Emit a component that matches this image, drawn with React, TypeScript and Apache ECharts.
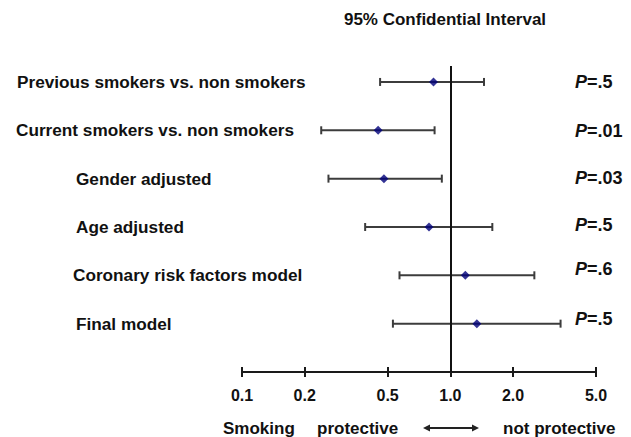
import React, { useEffect, useRef } from "react";
import * as echarts from "echarts";

const labels = [
  "Previous smokers vs. non smokers",
  "Current smokers vs. non smokers",
  "Gender adjusted",
  "Age adjusted",
  "Coronary risk factors model",
  "Final model",
];
const estimates = [0.83, 0.45, 0.48, 0.79, 1.18, 1.34];
const lowerCI = [0.46, 0.24, 0.26, 0.39, 0.57, 0.53];
const upperCI = [1.45, 0.84, 0.91, 1.59, 2.53, 3.38];
const pValues = [".5", ".01", ".03", ".5", ".6", ".5"];
const rows = [6, 5, 4, 3, 2, 1];
const tickValues = [0.1, 0.2, 0.5, 1.0, 2.0, 5.0];
const titleText = "95% Confidential Interval";
const footerLeft = "Smoking";
const footerMid = "protective";
const footerRight = "not protective";

// layout (pixel offsets, not data)
const labelLeft = [17, 16, 76, 76, 73, 76];
const pOffset = [0, 1, -1, -2, -6, -5];

const FONT = "'Liberation Sans', Arial, Helvetica, sans-serif";
const L = Math.log10;

export default function App() {
  const ref = useRef<HTMLDivElement>(null);
  useEffect(() => {
    if (!ref.current) return;
    const chart = echarts.init(ref.current, undefined, { renderer: "svg" });
    const xMin = L(tickValues[0]);
    const xMax = L(tickValues[tickValues.length - 1]);
    const ticks = tickValues.map((v) => L(v));
    const axisCommon = {
      type: "value",
      min: xMin,
      max: xMax,
      position: "bottom",
      splitLine: { show: false },
    };
    chart.setOption({
      animation: false,
      grid: { left: 242, right: 35, top: 66, bottom: 65 },
      xAxis: [
        {
          ...axisCommon,
          axisLine: { show: true, lineStyle: { color: "#1a1a1a", width: 2 } },
          axisTick: {
            show: true,
            customValues: ticks,
            length: 5,
            inside: false,
            lineStyle: { color: "#1a1a1a", width: 2 },
          },
          axisLabel: {
            show: true,
            customValues: ticks,
            margin: 15,
            fontSize: 16,
            fontWeight: "bold",
            fontFamily: FONT,
            color: "#111",
            formatter: (v: number) => Math.pow(10, v).toFixed(1),
          },
        },
        {
          ...axisCommon,
          axisLine: { show: false },
          axisTick: {
            show: true,
            customValues: ticks,
            length: 5,
            inside: true,
            lineStyle: { color: "#1a1a1a", width: 2 },
          },
          axisLabel: { show: false },
        },
      ],
      yAxis: { type: "value", min: 0, max: 6.33, show: false },
      series: [
        {
          type: "custom",
          xAxisIndex: 0,
          encode: { x: [0, 1], y: 2 },
          data: rows.map((r, i) => [L(lowerCI[i]), L(upperCI[i]), r]),
          renderItem: (params: any, api: any) => {
            const lo = api.coord([api.value(0), api.value(2)]);
            const hi = api.coord([api.value(1), api.value(2)]);
            const cap = 4;
            const style = { stroke: "#3c3c3c", lineWidth: 2 };
            return {
              type: "group",
              children: [
                { type: "line", shape: { x1: lo[0], y1: lo[1], x2: hi[0], y2: hi[1] }, style },
                { type: "line", shape: { x1: lo[0], y1: lo[1] - cap, x2: lo[0], y2: lo[1] + cap }, style },
                { type: "line", shape: { x1: hi[0], y1: hi[1] - cap, x2: hi[0], y2: hi[1] + cap }, style },
              ],
            };
          },
          z: 2,
        },
        {
          type: "scatter",
          xAxisIndex: 0,
          data: rows.map((r, i) => [L(estimates[i]), r]),
          symbol: "diamond",
          symbolSize: 9,
          itemStyle: { color: "#00007a" },
          z: 4,
          markLine: {
            silent: true,
            symbol: "none",
            label: { show: false },
            lineStyle: { color: "#111", width: 2, type: "solid" },
            data: [{ xAxis: 0 }],
          },
        },
      ],
    });

    const ys = rows.map((r) => chart.convertToPixel({ yAxisIndex: 0 }, r) as number);
    const textStyle = (extra: any) => ({
      fontFamily: FONT,
      fontWeight: "bold",
      fill: "#111",
      ...extra,
    });
    const graphics: any[] = [];
    graphics.push({
      type: "text",
      x: 445,
      y: 19,
      style: textStyle({ text: titleText, fontSize: 17, textAlign: "center", textVerticalAlign: "middle" }),
    });
    labels.forEach((lab, i) => {
      graphics.push({
        type: "text",
        x: labelLeft[i],
        y: ys[i],
        style: textStyle({ text: lab, fontSize: 17.2, textAlign: "left", textVerticalAlign: "middle" }),
      });
      graphics.push({
        type: "text",
        x: 575,
        y: ys[i] + pOffset[i],
        style: textStyle({
          text: "{i|P}{n|=" + pValues[i] + "}",
          textAlign: "left",
          textVerticalAlign: "middle",
          rich: {
            i: { fontStyle: "italic", fontWeight: "bold", fontSize: 18, fontFamily: FONT, color: "#111" },
            n: { fontWeight: "bold", fontSize: 18, fontFamily: FONT, color: "#111" },
          },
        }),
      });
    });
    const fy = 428;
    graphics.push(
      { type: "text", x: 223, y: fy, style: textStyle({ text: footerLeft, fontSize: 17, textVerticalAlign: "middle" }) },
      { type: "text", x: 317, y: fy, style: textStyle({ text: footerMid, fontSize: 17, textVerticalAlign: "middle" }) },
      { type: "text", x: 503, y: fy, style: textStyle({ text: footerRight, fontSize: 17, textVerticalAlign: "middle" }) },
      { type: "line", shape: { x1: 428, y1: fy, x2: 474, y2: fy }, style: { stroke: "#222", lineWidth: 2 } },
      { type: "polygon", shape: { points: [[423, fy], [430, fy - 3.5], [430, fy + 3.5]] }, style: { fill: "#222" } },
      { type: "polygon", shape: { points: [[479, fy], [472, fy - 3.5], [472, fy + 3.5]] }, style: { fill: "#222" } }
    );
    chart.setOption({ graphic: graphics });
    return () => chart.dispose();
  }, []);
  return <div ref={ref} style={{ width: 631, height: 437, position: "fixed", left: 0, top: 0, background: "#fff" }} />;
}
